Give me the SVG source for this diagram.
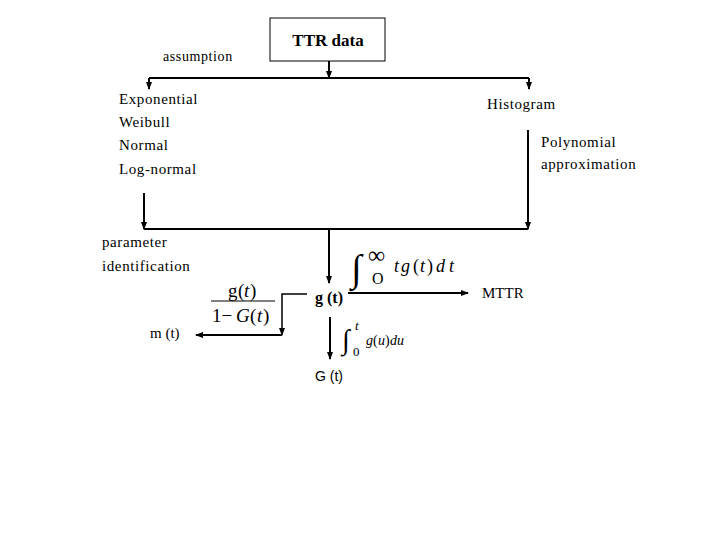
<svg xmlns="http://www.w3.org/2000/svg" width="720" height="540" viewBox="0 0 720 540">
<defs>
<marker id="ah" markerWidth="8" markerHeight="8" refX="7" refY="4" orient="auto" markerUnits="userSpaceOnUse">
<path d="M0,1 L8,4 L0,7 Z" fill="#000"/>
</marker>
<style>
.t{font-family:"Liberation Serif","Times New Roman",serif;font-size:15px;fill:#000}
.l{letter-spacing:0.6px}
.s{font-family:"Liberation Sans",Arial,sans-serif;font-size:14px;fill:#000}
.m{font-family:"Liberation Serif","Times New Roman",serif;font-style:italic;fill:#000}
.c{stroke:#000;stroke-width:2;fill:none}
</style>
</defs>
<rect width="720" height="540" fill="#fff"/>
<g id="ttr"><rect x="270" y="18" width="115" height="43" fill="#fff" stroke="#000" stroke-width="1"/>
<text x="328" y="46" text-anchor="middle" class="t" style="font-weight:bold;font-size:17px">TTR  data</text></g>
<g id="assumption"><text x="163" y="61" class="t l" style="font-size:14px">assumption</text></g>
<g id="dists"><text x="119" y="104" class="t l">Exponential</text>
<text x="119" y="127" class="t l">Weibull</text>
<text x="119" y="150" class="t l">Normal</text>
<text x="119" y="174" class="t l">Log-normal</text></g>
<g id="histogram"><text x="487" y="109" class="t l">Histogram</text></g>
<g id="poly"><text x="541" y="147" class="t l">Polynomial</text>
<text x="541" y="169" class="t l">approximation</text></g>
<g id="param"><text x="102" y="247" class="t l">parameter</text>
<text x="102" y="271" class="t l">identification</text></g>
<g id="gt"><text x="329" y="303" text-anchor="middle" class="t" style="font-weight:bold;font-size:16px">g (t)</text></g>
<g id="mttr"><text x="482" y="298" class="t">MTTR</text></g>
<g id="mt"><text x="150" y="338" class="t">m (t)</text></g>
<g id="Gt"><text x="329" y="381" text-anchor="middle" class="s">G (t)</text></g>
<g id="formulas">
<text x="351" y="281" class="t" style="font-size:38px">∫</text>
<text x="368" y="263" class="t" style="font-size:24px">∞</text>
<text x="372" y="284" class="t" style="font-size:16px">O</text>
<text x="394" y="272" class="m" style="font-size:18px">t</text>
<text x="401" y="272" class="m" style="font-size:18px">g</text>
<text x="413" y="272" class="t" style="font-size:18px">(</text>
<text x="420" y="272" class="m" style="font-size:18px">t</text>
<text x="427" y="272" class="t" style="font-size:18px">)</text>
<text x="436" y="272" class="m" style="font-size:18px">d</text>
<text x="449" y="272" class="m" style="font-size:18px">t</text>
<text x="228" y="297" class="t" style="font-size:19px">g</text>
<text x="238" y="297" class="t" style="font-size:19px">(</text>
<text x="244" y="297" class="m" style="font-size:19px">t</text>
<text x="250" y="297" class="t" style="font-size:19px">)</text>
<line x1="211" y1="301" x2="275" y2="301" stroke="#000" stroke-width="1.2"/>
<text x="212" y="322" class="t" style="font-size:19px">1−</text>
<text x="236" y="322" class="m" style="font-size:19px">G</text>
<text x="250" y="322" class="t" style="font-size:19px">(</text>
<text x="257" y="322" class="m" style="font-size:19px">t</text>
<text x="263" y="322" class="t" style="font-size:19px">)</text>
<text x="342" y="349" class="t" style="font-size:28px">∫</text>
<text x="355" y="330" class="m" style="font-size:13px">t</text>
<text x="353" y="356" class="t" style="font-size:13px">0</text>
<text x="366" y="345" class="m" style="font-size:14px">g</text>
<text x="373" y="345" class="t" style="font-size:14px">(</text>
<text x="378" y="345" class="m" style="font-size:14px">u</text>
<text x="385" y="345" class="t" style="font-size:14px">)</text>
<text x="390" y="345" class="m" style="font-size:14px">du</text>
</g>
<g id="connectors">
<line x1="329" y1="61" x2="329" y2="78" class="c" marker-end="url(#ah)"/>
<line x1="149" y1="78" x2="529" y2="78" class="c"/>
<line x1="149" y1="78" x2="149" y2="89" class="c" marker-end="url(#ah)"/>
<line x1="529" y1="78" x2="529" y2="89" class="c" marker-end="url(#ah)"/>
<line x1="144" y1="193" x2="144" y2="229" class="c" marker-end="url(#ah)"/>
<line x1="528" y1="130" x2="528" y2="229" class="c" marker-end="url(#ah)"/>
<line x1="144" y1="229" x2="528" y2="229" class="c"/>
<line x1="329" y1="229" x2="329" y2="283" class="c" marker-end="url(#ah)"/>
<line x1="348" y1="293" x2="468" y2="293" class="c" marker-end="url(#ah)"/>
<polyline points="307,294 282,294 282,335" class="c" style="stroke-width:1.5" marker-end="url(#ah)"/>
<line x1="282" y1="335" x2="196" y2="335" class="c" marker-end="url(#ah)"/>
<line x1="330" y1="317" x2="330" y2="359" class="c" marker-end="url(#ah)"/>
</g>
</svg>
